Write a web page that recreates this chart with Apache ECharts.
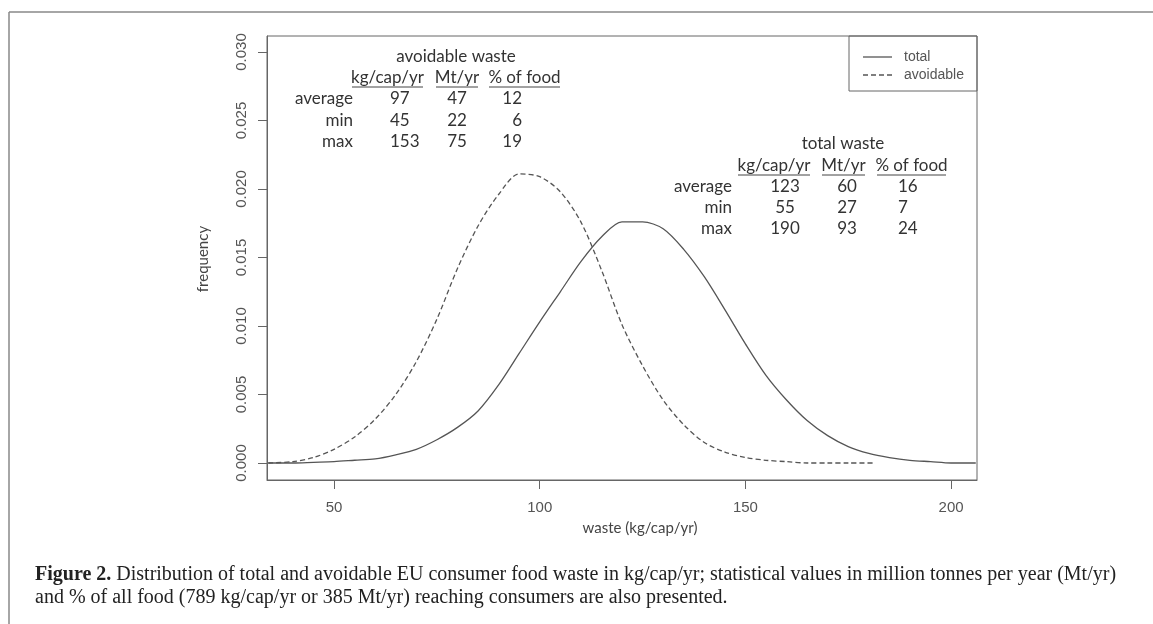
<!DOCTYPE html>
<html>
<head>
<meta charset="utf-8">
<script src="https://cdn.jsdelivr.net/npm/echarts@6/dist/echarts.min.js"></script>
<style>
  html, body { margin: 0; padding: 0; background: #fff; }
  #chart { width: 1153px; height: 624px; }
</style>
</head>
<body>
<div id="chart"></div>
<script>
  // density curves
  var totalX    = [34, 40, 45, 50, 55, 60, 65, 70, 75, 80, 85, 90, 95, 100, 105, 110, 115, 120, 125, 130, 135, 140, 145, 150, 155, 160, 165, 170, 175, 180, 185, 190, 195, 200, 206];
  var totalFreq = [0, 0, 0.00005, 0.0001, 0.0002, 0.0003, 0.0006, 0.0010, 0.0017, 0.0026, 0.0038, 0.0057, 0.0080, 0.0103, 0.0125, 0.0147, 0.0165, 0.0176, 0.0176, 0.0171, 0.0156, 0.0136, 0.0112, 0.0087, 0.0064, 0.0046, 0.0031, 0.0020, 0.0012, 0.0007, 0.0004, 0.0002, 0.0001, 0, 0];

  var avoidX    = [34, 40, 45, 50, 55, 60, 65, 70, 75, 80, 85, 90, 95, 100, 105, 110, 115, 120, 125, 130, 135, 140, 145, 150, 155, 160, 165, 170, 175, 181];
  var avoidFreq = [0, 0.0001, 0.0004, 0.0010, 0.0019, 0.0032, 0.0050, 0.0074, 0.0105, 0.0142, 0.0173, 0.0196, 0.0211, 0.0209, 0.0198, 0.0176, 0.0141, 0.0101, 0.0071, 0.0046, 0.0028, 0.0015, 0.0008, 0.0004, 0.0002, 0.0001, 0, 0, 0, 0];

  var xTicks = [50, 100, 150, 200];
  var yTicks = [0, 0.005, 0.010, 0.015, 0.020, 0.025, 0.030];

  // statistics tables
  var rowLabels   = ['average', 'min', 'max'];
  var colHeads    = ['kg/cap/yr', 'Mt/yr', '% of food'];
  var avoidKg     = ['97', '45', '153'];
  var avoidMt     = ['47', '22', '75'];
  var avoidPct    = ['12', '6', '19'];
  var totalKg     = ['123', '55', '190'];
  var totalMt     = ['60', '27', '93'];
  var totalPct    = ['16', '7', '24'];
  var legendNames = ['total', 'avoidable'];

  function pairs(xs, ys) {
    var out = [];
    for (var i = 0; i < xs.length; i++) out.push([xs[i], ys[i]]);
    return out;
  }

  var tableFont = '17px Lato';
  var tableColor = '#333';

  function txt(x, y, s, align, font) {
    return {
      type: 'text', x: x, y: y,
      style: { text: s, font: font || tableFont, fill: tableColor, align: align || 'center', verticalAlign: 'middle' }
    };
  }
  function uline(x1, x2, y) {
    return { type: 'line', shape: { x1: x1, y1: y, x2: x2, y2: y }, style: { stroke: '#444', lineWidth: 1 } };
  }

  var g = [];
  // outer frame (cut off at right and bottom)
  g.push({ type: 'line', shape: { x1: 9, y1: 12, x2: 1153, y2: 12 }, style: { stroke: '#888', lineWidth: 1.5 } });
  g.push({ type: 'line', shape: { x1: 9, y1: 12, x2: 9, y2: 624 }, style: { stroke: '#888', lineWidth: 1.5 } });

  // legend box
  g.push({ type: 'rect', shape: { x: 849, y: 36, width: 128, height: 55 }, style: { fill: 'none', stroke: '#666', lineWidth: 1 } });
  g.push({ type: 'line', shape: { x1: 863, y1: 57, x2: 892, y2: 57 }, style: { stroke: '#555', lineWidth: 1.3 } });
  g.push({ type: 'line', shape: { x1: 863, y1: 75, x2: 892, y2: 75 }, style: { stroke: '#555', lineWidth: 1.3, lineDash: [5, 3] } });
  g.push({ type: 'text', x: 904, y: 57, style: { text: legendNames[0], font: '14px "Liberation Sans"', fill: '#555', verticalAlign: 'middle' } });
  g.push({ type: 'text', x: 904, y: 75, style: { text: legendNames[1], font: '14px "Liberation Sans"', fill: '#555', verticalAlign: 'middle' } });

  // avoidable table
  g.push(txt(456, 57, 'avoidable waste'));
  var aHead = [[352, 423], [436, 478], [489, 560]];
  for (var i = 0; i < 3; i++) {
    g.push(txt((aHead[i][0] + aHead[i][1]) / 2, 78, colHeads[i]));
    g.push(uline(aHead[i][0], aHead[i][1], 87));
  }
  var aRows = [99, 121, 142];
  for (var r = 0; r < 3; r++) {
    g.push(txt(353, aRows[r], rowLabels[r], 'right'));
    g.push(txt(390, aRows[r], avoidKg[r], 'left'));
    g.push(txt(457, aRows[r], avoidMt[r], 'center'));
    g.push(txt(522, aRows[r], avoidPct[r], 'right'));
  }

  // total table
  g.push(txt(843, 144, 'total waste'));
  var tHead = [[738, 810], [822, 865], [877, 946]];
  for (var j = 0; j < 3; j++) {
    g.push(txt((tHead[j][0] + tHead[j][1]) / 2, 166, colHeads[j]));
    g.push(uline(tHead[j][0], tHead[j][1], 175));
  }
  var tRows = [187, 208, 229];
  for (var k = 0; k < 3; k++) {
    g.push(txt(732, tRows[k], rowLabels[k], 'right'));
    g.push(txt(785, tRows[k], totalKg[k], 'center'));
    g.push(txt(847, tRows[k], totalMt[k], 'center'));
    g.push(txt(898, tRows[k], totalPct[k], 'left'));
  }

  // axis titles
  g.push({ type: 'text', x: 640, y: 528, style: { text: 'waste (kg/cap/yr)', font: '15px Lato', fill: '#444', align: 'center', verticalAlign: 'middle' } });
  g.push({ type: 'text', x: 203, y: 259, rotation: Math.PI / 2, style: { text: 'frequency', font: '15px Lato', fill: '#444', align: 'center', verticalAlign: 'middle' } });

  // caption
  g.push({
    type: 'text', x: 35, y: 575,
    style: {
      text: '{b|Figure 2.} Distribution of total and avoidable EU consumer food waste in kg/cap/yr; statistical values in million tonnes per year (Mt/yr)',
      font: '20px "Liberation Serif"', fill: '#222', verticalAlign: 'middle',
      rich: { b: { font: 'bold 20px "Liberation Serif"', fill: '#222' } }
    }
  });
  g.push({
    type: 'text', x: 35, y: 598,
    style: { text: 'and % of all food (789 kg/cap/yr or 385 Mt/yr) reaching consumers are also presented.', font: '20px "Liberation Serif"', fill: '#222', verticalAlign: 'middle' }
  });

  var chart = echarts.init(document.getElementById('chart'));
  chart.setOption({
    animation: false,
    backgroundColor: '#fff',
    grid: { left: 267, top: 36, width: 710, height: 444, show: true, borderColor: '#666', borderWidth: 1, backgroundColor: 'transparent' },
    xAxis: {
      type: 'value', min: 33.7, max: 206.3,
      splitLine: { show: false },
      axisLine: { show: true, onZero: false, lineStyle: { color: '#666' } },
      axisTick: { show: true, inside: false, length: 9, customValues: xTicks, lineStyle: { color: '#666' } },
      axisLabel: { customValues: xTicks, margin: 20, fontFamily: 'Liberation Sans', fontSize: 15, color: '#555' }
    },
    yAxis: {
      type: 'value', min: -0.00124, max: 0.03117,
      splitLine: { show: false },
      axisLine: { show: true, onZero: false, lineStyle: { color: '#666' } },
      axisTick: { show: true, inside: false, length: 9, customValues: yTicks, lineStyle: { color: '#666' } },
      axisLabel: {
        customValues: yTicks, rotate: 90, margin: 18, fontFamily: 'Liberation Sans', fontSize: 15, color: '#555',
        formatter: function (v) { return v.toFixed(3); }
      }
    },
    series: [
      {
        name: 'total', type: 'line', data: pairs(totalX, totalFreq), smooth: 0.3, symbol: 'none',
        lineStyle: { color: '#555', width: 1.3, type: 'solid' }
      },
      {
        name: 'avoidable', type: 'line', data: pairs(avoidX, avoidFreq), smooth: 0.3, symbol: 'none',
        lineStyle: { color: '#555', width: 1.3, type: [5, 3] }
      }
    ],
    graphic: g
  });
</script>
</body>
</html>
